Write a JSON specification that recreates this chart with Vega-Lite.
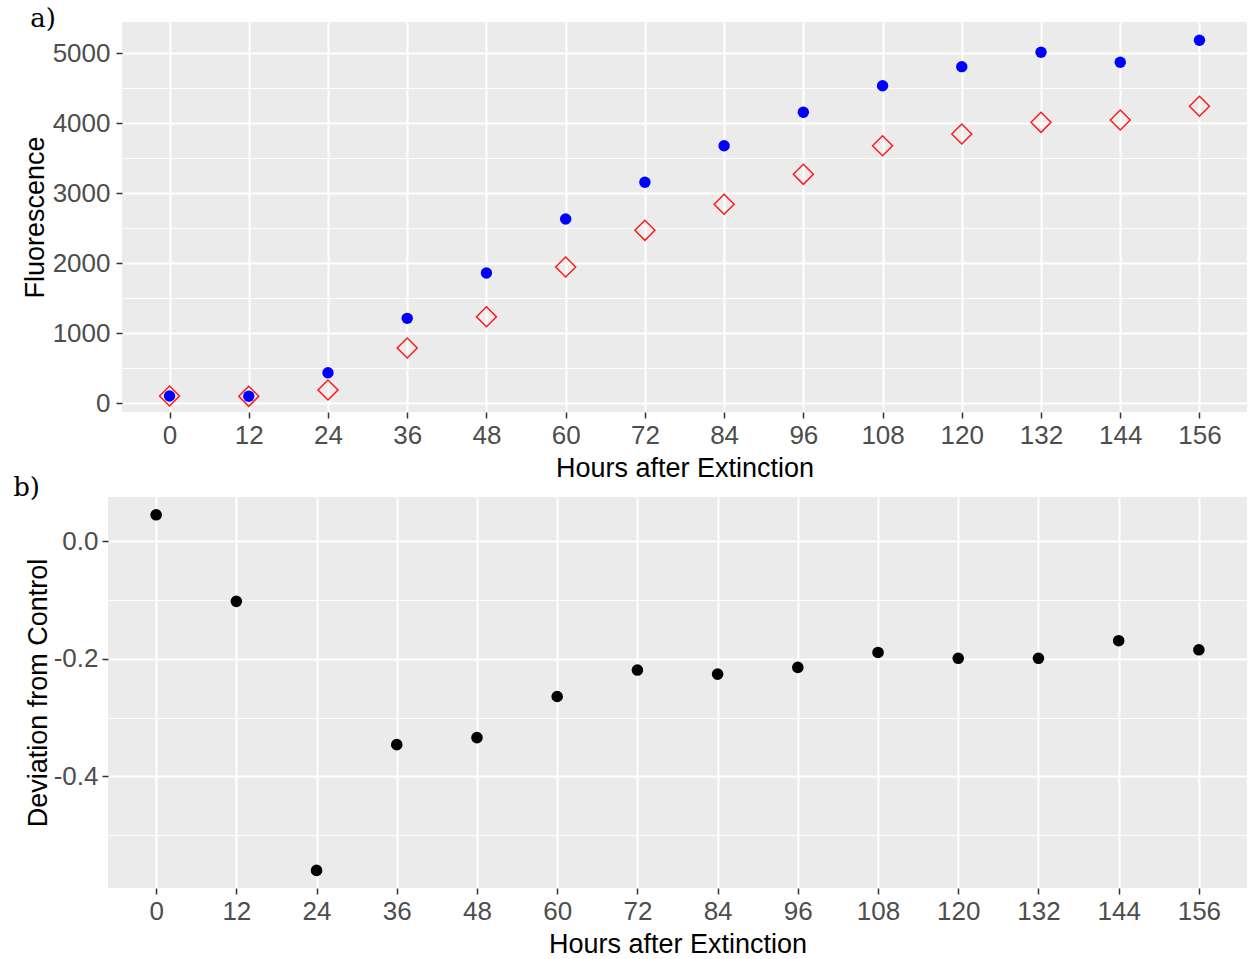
{
  "$schema": "https://vega.github.io/schema/vega-lite/v6.json",
  "background": "white",
  "padding": {"left": 13, "top": 6, "right": 0, "bottom": 0},
  "spacing": -6,
  "datasets": {
    "fluor": [
      {"hours": 0, "series": "Control", "value": 104},
      {"hours": 12, "series": "Control", "value": 100},
      {"hours": 24, "series": "Control", "value": 437},
      {"hours": 36, "series": "Control", "value": 1214},
      {"hours": 48, "series": "Control", "value": 1861},
      {"hours": 60, "series": "Control", "value": 2633},
      {"hours": 72, "series": "Control", "value": 3157},
      {"hours": 84, "series": "Control", "value": 3680},
      {"hours": 96, "series": "Control", "value": 4157},
      {"hours": 108, "series": "Control", "value": 4537},
      {"hours": 120, "series": "Control", "value": 4809},
      {"hours": 132, "series": "Control", "value": 5014},
      {"hours": 144, "series": "Control", "value": 4871},
      {"hours": 156, "series": "Control", "value": 5186},
      {"hours": 0, "series": "Treatment", "value": 104},
      {"hours": 12, "series": "Treatment", "value": 100},
      {"hours": 24, "series": "Treatment", "value": 190},
      {"hours": 36, "series": "Treatment", "value": 790},
      {"hours": 48, "series": "Treatment", "value": 1237},
      {"hours": 60, "series": "Treatment", "value": 1947},
      {"hours": 72, "series": "Treatment", "value": 2471},
      {"hours": 84, "series": "Treatment", "value": 2843},
      {"hours": 96, "series": "Treatment", "value": 3271},
      {"hours": 108, "series": "Treatment", "value": 3680},
      {"hours": 120, "series": "Treatment", "value": 3847},
      {"hours": 132, "series": "Treatment", "value": 4014},
      {"hours": 144, "series": "Treatment", "value": 4047},
      {"hours": 156, "series": "Treatment", "value": 4243}
    ],
    "deviation": [
      {"hours": 0, "deviation": 0.0453},
      {"hours": 12, "deviation": -0.102},
      {"hours": 24, "deviation": -0.560},
      {"hours": 36, "deviation": -0.346},
      {"hours": 48, "deviation": -0.334},
      {"hours": 60, "deviation": -0.264},
      {"hours": 72, "deviation": -0.219},
      {"hours": 84, "deviation": -0.226},
      {"hours": 96, "deviation": -0.2145},
      {"hours": 108, "deviation": -0.189},
      {"hours": 120, "deviation": -0.199},
      {"hours": 132, "deviation": -0.199},
      {"hours": 144, "deviation": -0.169},
      {"hours": 156, "deviation": -0.1845}
    ]
  },
  "vconcat": [
    {
      "title": {"text": "a)", "dx": 9, "offset": -10},
      "width": 1139,
      "height": 390,
      "view": {
        "stroke": null,
        "fill": {
          "gradient": "linear",
          "stops": [
            {"offset": 0, "color": "white"},
            {"offset": 0.0123, "color": "white"},
            {"offset": 0.0123, "color": "#EBEBEB"},
            {"offset": 1, "color": "#EBEBEB"}
          ]
        }
      },
      "data": {"name": "fluor"},
      "encoding": {
        "x": {
          "field": "hours", "type": "quantitative",
          "scale": {"domain": [-7.2, 163.2], "range": [14, 1139], "nice": false, "zero": false},
          "axis": {"title": "Hours after Extinction", "values": [0,12,24,36,48,60,72,84,96,108,120,132,144,156], "gridWidth": 2}
        },
        "y": {
          "field": "value", "type": "quantitative",
          "scale": {"domain": [-124, 5447], "nice": false, "zero": false},
          "axis": {
            "title": "Fluorescence",
            "offset": -14,
            "titlePadding": 3,
            "values": [0,500,1000,1500,2000,2500,3000,3500,4000,4500,5000],
            "labelExpr": "datum.value % 1000 === 0 ? datum.value : ''",
            "gridWidth": {"expr": "datum.value % 1000 === 0 ? 2 : 1"},
            "tickOpacity": {"expr": "datum.value % 1000 === 0 ? 1 : 0"}
          }
        }
      },
      "layer": [
        {
          "transform": [{"filter": "datum.series === 'Treatment'"}],
          "mark": {"type": "point", "shape": "diamond", "filled": false, "color": "#FF1A1A", "size": 400, "strokeWidth": 1.5, "opacity": 1}
        },
        {
          "transform": [{"filter": "datum.series === 'Control'"}],
          "mark": {"type": "circle", "color": "#0000FF", "size": 130, "opacity": 1}
        }
      ]
    },
    {
      "title": {"text": "b)", "dx": -11, "offset": -4},
      "width": 1139,
      "height": 391,
      "data": {"name": "deviation"},
      "mark": {"type": "circle", "color": "black", "size": 135, "opacity": 1},
      "encoding": {
        "x": {
          "field": "hours", "type": "quantitative",
          "scale": {"domain": [-7.2, 163.2], "nice": false, "zero": false},
          "axis": {"title": "Hours after Extinction", "values": [0,12,24,36,48,60,72,84,96,108,120,132,144,156], "gridWidth": 2}
        },
        "y": {
          "field": "deviation", "type": "quantitative",
          "scale": {"domain": [-0.590, 0.0756], "nice": false, "zero": false},
          "axis": {
            "title": "Deviation from Control",
            "labelPadding": 4,
            "titlePadding": 1,
            "values": [-0.5,-0.4,-0.3,-0.2,-0.1,0],
            "labelExpr": "round(datum.value*10) % 2 === 0 ? replace(format(datum.value, '.1f'), '\u2212', '-') : ''",
            "gridWidth": {"expr": "round(datum.value*10) % 2 === 0 ? 2 : 1"},
            "tickOpacity": {"expr": "round(datum.value*10) % 2 === 0 ? 1 : 0"}
          }
        }
      }
    }
  ],
  "config": {
    "view": {"fill": "#EBEBEB", "stroke": null},
    "axis": {
      "domain": false,
      "gridColor": "white",
      "tickColor": "#333333",
      "tickSize": 6,
      "tickWidth": 1.5,
      "labelFont": "Liberation Sans",
      "labelFontSize": 26,
      "labelColor": "#4D4D4D",
      "titleFont": "Liberation Sans",
      "titleFontSize": 27,
      "titleFontWeight": "normal",
      "titleColor": "black"
    },
    "axisX": {"labelPadding": 4, "titlePadding": 7},
    "axisY": {"labelPadding": 6, "titlePadding": 5},
    "title": {"font": "DejaVu Serif", "fontSize": 26, "fontWeight": "normal", "anchor": "start", "frame": "bounds", "color": "black"}
  }
}
